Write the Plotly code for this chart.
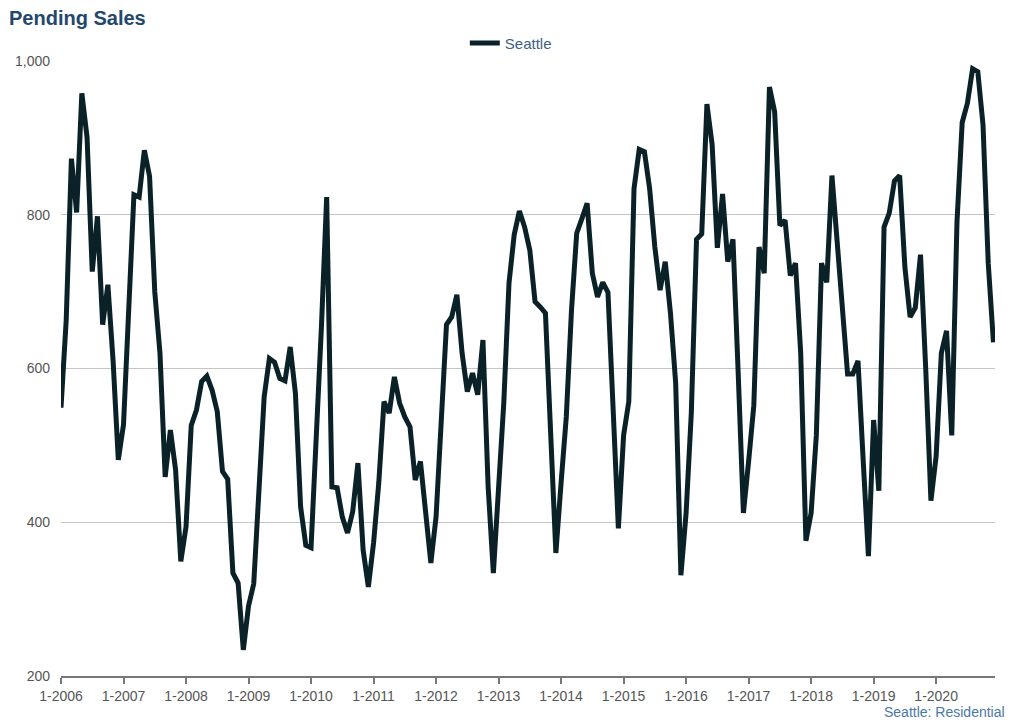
import plotly.graph_objects as go

# Monthly pending sales, Seattle residential, Jan 2006 .. Dec 2020
start_year = 2006
values_2006 = [549, 663, 873, 803, 958, 901, 726, 798, 657, 709, 610, 481]
values_2007 = [527, 677, 826, 823, 884, 850, 700, 620, 459, 520, 468, 349]
values_2008 = [394, 526, 546, 583, 590, 572, 544, 466, 456, 334, 321, 234]
values_2009 = [291, 320, 445, 563, 613, 608, 587, 584, 628, 568, 420, 370]
values_2010 = [367, 500, 655, 823, 446, 445, 407, 386, 414, 477, 364, 316]
values_2011 = [373, 451, 557, 542, 589, 555, 537, 524, 455, 479, 407, 347]
values_2012 = [407, 529, 657, 667, 696, 620, 570, 594, 566, 637, 446, 334]
values_2013 = [442, 555, 711, 774, 805, 784, 754, 687, 680, 672, 516, 360]
values_2014 = [451, 537, 676, 776, 795, 815, 724, 693, 712, 699, 546, 392]
values_2015 = [513, 557, 834, 885, 882, 834, 758, 702, 739, 672, 581, 331]
values_2016 = [412, 542, 768, 775, 944, 891, 757, 827, 739, 768, 594, 412]
values_2017 = [479, 552, 758, 724, 966, 934, 786, 793, 721, 737, 620, 376]
values_2018 = [412, 513, 737, 712, 851, 758, 672, 593, 593, 610, 480, 356]
values_2019 = [533, 441, 784, 802, 844, 851, 732, 667, 679, 748, 600, 428]
values_2020 = [486, 620, 649, 513, 790, 920, 945, 990, 986, 917, 737, 634]

yearly = [values_2006, values_2007, values_2008, values_2009, values_2010,
          values_2011, values_2012, values_2013, values_2014, values_2015,
          values_2016, values_2017, values_2018, values_2019, values_2020]
values = [v for year in yearly for v in year]
month_index = list(range(len(values)))

tick_labels = ["1-2006", "1-2007", "1-2008", "1-2009", "1-2010", "1-2011", "1-2012",
               "1-2013", "1-2014", "1-2015", "1-2016", "1-2017", "1-2018", "1-2019", "1-2020"]
tick_positions = [12 * k for k in range(len(tick_labels))]

y_ticks = [200, 400, 600, 800, 1000]
y_tick_text = ["200", "400", "600", "800", "1,000"]

FONT = "Arial, 'Liberation Sans', Helvetica, sans-serif"

fig = go.Figure()
fig.add_trace(go.Scatter(
    x=month_index, y=values, mode="lines", name="Seattle",
    line=dict(color="#0b2128", width=5, shape="linear"),
))

fig.update_layout(
    width=1024, height=725,
    margin=dict(l=61, r=29, t=61, b=49),
    paper_bgcolor="white", plot_bgcolor="white",
    font=dict(family=FONT, size=14, color="#555555"),
    showlegend=True,
    legend=dict(orientation="h", x=0.4816, xanchor="center", y=1.029, yanchor="middle",
                font=dict(family=FONT, size=15, color="#3d5f85"),
                bgcolor="rgba(0,0,0,0)", itemwidth=30),
    xaxis=dict(range=[0, 179.3], tickvals=tick_positions, ticktext=tick_labels,
               showgrid=False, zeroline=False, showline=True, linecolor="#777777",
               linewidth=2, ticks="outside", ticklen=6, tickwidth=2, tickcolor="#777777",
               tickfont=dict(family=FONT, size=14, color="#555555")),
    yaxis=dict(range=[200, 1000], tickvals=y_ticks, ticktext=y_tick_text,
               showgrid=True, gridcolor="#c4c4c4", gridwidth=1, zeroline=False,
               showline=False, ticks="", ticklabelstandoff=10,
               tickfont=dict(family=FONT, size=14, color="#555555")),
    annotations=[
        dict(text="<b>Pending Sales</b>", xref="paper", yref="paper",
             x=(7 - 61) / 934, y=1 + (61 - 18) / 615, xanchor="left", yanchor="middle",
             showarrow=False, font=dict(family=FONT, size=20, color="#24476e")),
        dict(text="Seattle: Residential", xref="paper", yref="paper",
             x=(1007 - 61) / 934, y=-(712 - 676) / 615, xanchor="right", yanchor="middle",
             showarrow=False, font=dict(family=FONT, size=14, color="#4a78a8")),
    ],
)

fig.write_html("out.html", config={"displayModeBar": False},
               post_script="document.body.style.margin='0';document.body.style.padding='0';")
